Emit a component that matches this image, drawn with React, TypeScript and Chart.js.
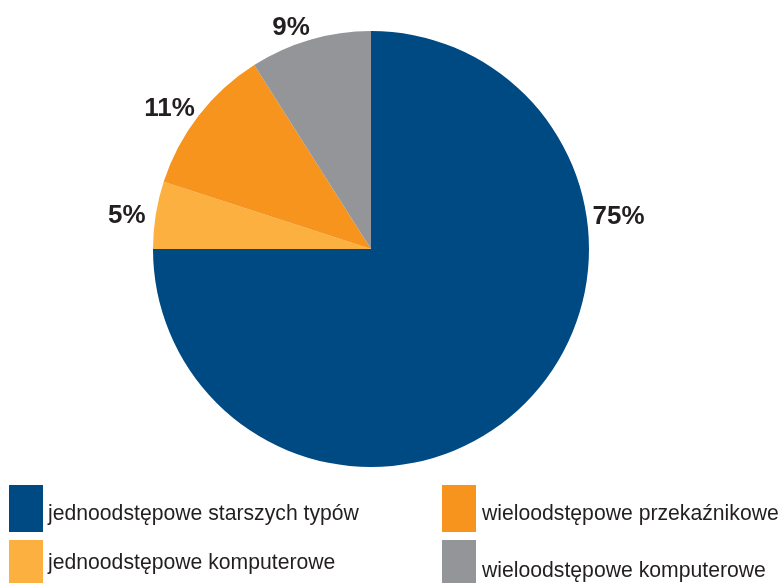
import React, { useEffect, useRef } from "react";
import { Chart, registerables } from "chart.js";

Chart.register(...registerables);

const categories = [
  "jednoodstępowe starszych typów",
  "jednoodstępowe komputerowe",
  "wieloodstępowe przekaźnikowe",
  "wieloodstępowe komputerowe",
];
const values = [75, 5, 11, 9];
const valueLabels = ["75%", "5%", "11%", "9%"];
const colors = ["#004a84", "#fbb040", "#f7941d", "#939598"];

// label placement relative to each slice's mid angle (degrees) and radius factor
const labelAngleOffset = [-52.5, -1.3, -3.0, -3.7];
const labelRadiusFactor = [1.145, 1.13, 1.125, 1.077];

// legend layout (grid positions)
const legendBoxes = [
  { x: 9, y: 485, w: 34, h: 47, tx: 48, ty: 520 },
  { x: 9, y: 540, w: 34, h: 46, tx: 48, ty: 569 },
  { x: 442, y: 485, w: 34, h: 47, tx: 482, ty: 520 },
  { x: 442, y: 540, w: 34, h: 46, tx: 482, ty: 577 },
];

const labelPlugin = {
  id: "customLabels",
  afterDraw(chart: any) {
    const ctx = chart.ctx;
    const meta = chart.getDatasetMeta(0);
    ctx.save();
    ctx.font = "bold 26px 'Liberation Sans', Arial, sans-serif";
    ctx.fillStyle = "#231f20";
    ctx.textAlign = "center";
    ctx.textBaseline = "middle";
    meta.data.forEach((arc: any, i: number) => {
      const p = arc.getProps(["x", "y", "startAngle", "endAngle", "outerRadius"], true);
      const mid = (p.startAngle + p.endAngle) / 2 + (labelAngleOffset[i] * Math.PI) / 180;
      const r = p.outerRadius * labelRadiusFactor[i];
      ctx.fillText(valueLabels[i], p.x + Math.cos(mid) * r, p.y + Math.sin(mid) * r);
    });
    // legend
    ctx.font = "21.2px 'Liberation Sans', Arial, sans-serif";
    ctx.textAlign = "left";
    ctx.textBaseline = "alphabetic";
    chart.data.labels.forEach((lab: string, i: number) => {
      const b = legendBoxes[i];
      ctx.fillStyle = chart.data.datasets[0].backgroundColor[i];
      ctx.fillRect(b.x, b.y, b.w, b.h);
      ctx.fillStyle = "#231f20";
      ctx.fillText(lab, b.tx, b.ty);
    });
    ctx.restore();
  },
};

export default function App() {
  const ref = useRef<HTMLCanvasElement>(null);
  useEffect(() => {
    if (!ref.current) return;
    const chart = new Chart(ref.current, {
      type: "pie",
      data: {
        labels: categories,
        datasets: [
          {
            data: values,
            backgroundColor: colors,
            borderWidth: 0,
          },
        ],
      },
      options: {
        responsive: false,
        animation: false,
        layout: { padding: { left: 153, right: 193, top: 31, bottom: 116 } },
        plugins: {
          legend: { display: false },
          tooltip: { enabled: false },
        },
      },
      plugins: [labelPlugin],
    });
    return () => chart.destroy();
  }, []);
  return (
    <div style={{ position: "fixed", left: 0, top: 0, width: 782, height: 583, background: "#fff" }}>
      <canvas ref={ref} width={782} height={583} style={{ display: "block", width: 782, height: 583 }} />
    </div>
  );
}
